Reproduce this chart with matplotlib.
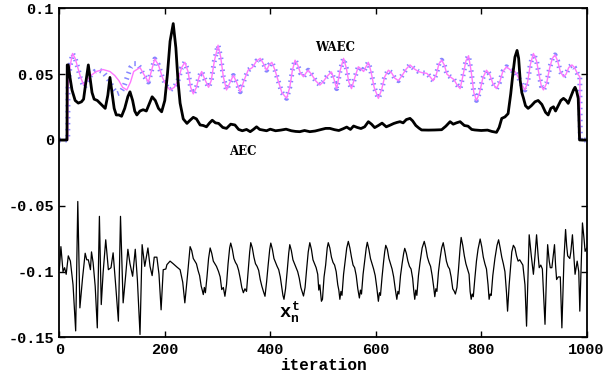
import numpy as np
import matplotlib
matplotlib.use('Agg')
import matplotlib.pyplot as plt

# AEC curve (iteration, value)
aec_pts = [
    (0, 0.0), (14.5, 0.0), (15, 0.057), (17, 0.057), (20, 0.048), (24, 0.038), (30, 0.030),
    (36, 0.028), (42, 0.029), (46, 0.031), (50, 0.043), (55, 0.057), (58, 0.048), (62, 0.036),
    (66, 0.031), (72, 0.030), (77, 0.028), (82, 0.026), (87, 0.024), (92, 0.034), (96, 0.0475),
    (100, 0.036), (104, 0.024), (108, 0.019), (113, 0.019), (118, 0.018), (124, 0.024),
    (130, 0.033), (134, 0.0366), (139, 0.030), (143, 0.022), (147, 0.019), (153, 0.022),
    (159, 0.023), (165, 0.022), (171, 0.028), (176, 0.0328), (182, 0.030), (188, 0.024),
    (194, 0.0214), (200, 0.030), (205, 0.050), (210, 0.075), (216, 0.0884), (221, 0.070),
    (225, 0.045), (229, 0.028), (235, 0.016), (242, 0.0126), (248, 0.015), (254, 0.0172),
    (260, 0.016), (267, 0.0114), (273, 0.011), (279, 0.010), (285, 0.013), (290, 0.015),
    (296, 0.013), (302, 0.0126), (310, 0.0095), (317, 0.0088), (325, 0.012), (333, 0.0114),
    (340, 0.008), (347, 0.007), (355, 0.008), (362, 0.0063), (368, 0.008), (374, 0.010),
    (380, 0.008), (386, 0.0075), (393, 0.007), (400, 0.0082), (410, 0.007), (420, 0.0075),
    (430, 0.0082), (440, 0.007), (448, 0.0065), (456, 0.0063), (465, 0.0072), (475, 0.0063),
    (485, 0.0068), (495, 0.0078), (505, 0.0088), (513, 0.0088), (522, 0.0078), (530, 0.0072),
    (538, 0.0085), (545, 0.0098), (552, 0.008), (558, 0.0106), (565, 0.0095), (572, 0.0087),
    (579, 0.010), (586, 0.0139), (592, 0.012), (598, 0.0094), (605, 0.011), (612, 0.0128),
    (620, 0.010), (627, 0.0112), (634, 0.0125), (640, 0.0133), (646, 0.0139), (652, 0.013),
    (658, 0.0155), (665, 0.0164), (670, 0.0145), (676, 0.011), (682, 0.009), (687, 0.0076),
    (700, 0.0075), (712, 0.0076), (725, 0.0078), (733, 0.0105), (741, 0.0139), (747, 0.012),
    (753, 0.013), (760, 0.0139), (768, 0.011), (775, 0.0105), (782, 0.008), (788, 0.0076),
    (800, 0.0072), (812, 0.0075), (820, 0.0065), (829, 0.0058), (834, 0.0095), (839, 0.0164),
    (845, 0.0175), (851, 0.020), (856, 0.035), (860, 0.050), (864, 0.063), (868, 0.068),
    (871, 0.062), (874, 0.045), (877, 0.036), (880, 0.032), (884, 0.026), (889, 0.024),
    (895, 0.026), (902, 0.029), (908, 0.030), (915, 0.027), (922, 0.021), (927, 0.019),
    (932, 0.024), (937, 0.0252), (941, 0.022), (946, 0.026), (951, 0.030), (956, 0.0316),
    (961, 0.030), (965, 0.0278), (970, 0.033), (975, 0.038), (978, 0.040), (981, 0.037),
    (984, 0.0316), (986.5, 0.0), (1000, 0.0),
]

# WAEC curve (violet line)
waec_pts = [
    (0, 0.0), (16, 0.0), (16.5, 0.040), (20, 0.055), (25, 0.0657), (30, 0.062), (35, 0.055),
    (40, 0.048), (46, 0.042), (52, 0.045), (60, 0.049), (70, 0.052), (83, 0.0535), (96, 0.052),
    (105, 0.049), (113, 0.045), (120, 0.040), (128, 0.038), (135, 0.044), (141, 0.052),
    (153, 0.055), (160, 0.050), (169, 0.044), (175, 0.053), (181, 0.0615), (188, 0.057),
    (195, 0.048), (203, 0.041), (210, 0.038), (218, 0.040), (225, 0.045), (232, 0.055),
    (238, 0.059), (244, 0.052), (249, 0.040), (254, 0.035), (260, 0.040), (265, 0.048),
    (270, 0.052), (276, 0.046), (283, 0.040), (288, 0.045), (294, 0.060), (301, 0.072),
    (306, 0.063), (311, 0.048), (317, 0.038), (323, 0.043), (330, 0.049), (336, 0.044),
    (343, 0.0366), (350, 0.045), (358, 0.053), (366, 0.055), (374, 0.060), (381, 0.062),
    (387, 0.058), (393, 0.053), (398, 0.057), (403, 0.059), (409, 0.053), (415, 0.045),
    (422, 0.036), (431, 0.0316), (437, 0.040), (442, 0.053), (447, 0.0606), (452, 0.057),
    (457, 0.051), (463, 0.048), (468, 0.051), (472, 0.053), (478, 0.050), (486, 0.045),
    (494, 0.0417), (500, 0.044), (507, 0.048), (516, 0.0517), (521, 0.046), (526, 0.039),
    (532, 0.052), (539, 0.062), (544, 0.055), (549, 0.044), (554, 0.039), (560, 0.047),
    (567, 0.0556), (572, 0.054), (577, 0.052), (582, 0.056), (586, 0.059), (591, 0.052),
    (597, 0.040), (605, 0.0316), (611, 0.038), (617, 0.048), (624, 0.053), (630, 0.051),
    (636, 0.047), (643, 0.045), (650, 0.049), (658, 0.054), (665, 0.057), (673, 0.054),
    (681, 0.052), (689, 0.051), (697, 0.0506), (703, 0.048), (709, 0.045), (715, 0.050),
    (720, 0.058), (725, 0.0606), (730, 0.057), (735, 0.050), (741, 0.048), (748, 0.046),
    (754, 0.042), (760, 0.039), (765, 0.048), (771, 0.060), (776, 0.064), (781, 0.052),
    (786, 0.036), (791, 0.030), (797, 0.036), (803, 0.047), (810, 0.053), (816, 0.050),
    (822, 0.043), (829, 0.039), (835, 0.044), (841, 0.052), (848, 0.0556), (856, 0.053),
    (864, 0.052), (870, 0.048), (877, 0.042), (883, 0.038), (888, 0.044), (893, 0.057),
    (899, 0.0657), (905, 0.060), (910, 0.049), (914, 0.041), (918, 0.038), (924, 0.043),
    (930, 0.055), (935, 0.062), (940, 0.0646), (945, 0.060), (950, 0.052), (956, 0.048),
    (961, 0.050), (966, 0.055), (972, 0.057), (977, 0.055), (983, 0.050), (987, 0.048),
    (988, 0.0), (1000, 0.0),
]

# blue marker curve differs from the violet one between 40 and 170
waec_blue_mid = [
    (40, 0.047), (47, 0.040), (53, 0.043), (60, 0.049), (67, 0.052), (75, 0.053), (82, 0.052),
    (88, 0.049), (95, 0.045), (102, 0.039), (109, 0.035), (116, 0.036), (122, 0.040),
    (128, 0.047), (135, 0.055), (141, 0.058), (147, 0.058), (153, 0.055), (160, 0.049),
    (169, 0.044),
]

# x_n^t series
xnt_pts = [
    (0, -0.0985), (3, -0.081), (7, -0.100), (10, -0.097), (13, -0.102), (17, -0.088),
    (21, -0.092), (26, -0.110), (31, -0.145), (35, -0.0467), (39, -0.1275), (44, -0.105),
    (49, -0.086), (52, -0.091), (55, -0.091), (59, -0.0985), (61, -0.085), (64, -0.093),
    (68, -0.111), (72, -0.1427), (76, -0.058), (79.5, -0.125), (83, -0.101), (88, -0.0758),
    (93, -0.0985), (98, -0.097), (102, -0.0857), (107, -0.111), (112, -0.1376), (116, -0.058),
    (121, -0.1237), (126, -0.102), (130, -0.083), (134, -0.094), (139, -0.1035), (144, -0.083),
    (148, -0.106), (153, -0.1477), (157, -0.0795), (162, -0.096), (168, -0.082), (172, -0.096),
    (176, -0.103), (180, -0.089), (185, -0.089), (189, -0.102), (193, -0.129), (197, -0.0985),
    (202, -0.098), (204, -0.0947), (210, -0.092), (216, -0.094), (223, -0.0965), (229, -0.0985),
    (234, -0.108), (238, -0.1237), (243, -0.103), (248, -0.081),
    (251, -0.084), (254, -0.090), (257, -0.092), (260, -0.094), (263, -0.099), (266, -0.103),
    (269, -0.111), (271, -0.114), (273, -0.1174), (275, -0.112), (277, -0.116), (280, -0.104),
    (283, -0.090), (286, -0.082),
    (289, -0.086), (292, -0.092), (295, -0.094), (298, -0.096), (302, -0.100), (305, -0.104),
    (308, -0.1136), (311, -0.112), (314, -0.1187), (317, -0.110), (320, -0.094), (323, -0.082),
    (325, -0.0783),
    (328, -0.083), (331, -0.090), (334, -0.093), (337, -0.095), (340, -0.099), (343, -0.105),
    (346, -0.112), (349, -0.116), (352, -0.113), (355, -0.115), (358, -0.100), (361, -0.085),
    (363, -0.078),
    (366, -0.082), (369, -0.089), (372, -0.094), (375, -0.096), (378, -0.099), (381, -0.106),
    (384, -0.111), (387, -0.115), (390, -0.1187), (393, -0.108), (396, -0.095), (399, -0.083),
    (401, -0.0783),
    (404, -0.083), (407, -0.090), (410, -0.093), (413, -0.096), (416, -0.0985), (419, -0.104),
    (422, -0.1124), (424, -0.118), (426, -0.121), (429, -0.113), (432, -0.100), (435, -0.086),
    (437, -0.0795),
    (440, -0.084), (443, -0.091), (446, -0.094), (449, -0.097), (452, -0.100), (455, -0.105),
    (458, -0.112), (461, -0.116), (463, -0.1185), (466, -0.112), (469, -0.098), (472, -0.085),
    (475, -0.078),
    (478, -0.083), (481, -0.091), (484, -0.094), (487, -0.097), (490, -0.102), (492, -0.114),
    (494, -0.110), (497, -0.1225), (499, -0.121), (502, -0.104), (505, -0.095), (508, -0.082),
    (510, -0.078),
    (513, -0.082), (516, -0.089), (519, -0.093), (522, -0.095), (525, -0.100), (528, -0.110),
    (530, -0.114), (532, -0.121), (534, -0.115), (536, -0.118), (539, -0.102), (542, -0.092),
    (545, -0.082), (548, -0.077),
    (551, -0.082), (554, -0.089), (557, -0.095), (560, -0.097), (563, -0.103), (566, -0.113),
    (569, -0.120), (571, -0.114), (573, -0.117), (576, -0.102), (579, -0.092), (582, -0.082),
    (584, -0.0777),
    (587, -0.083), (590, -0.090), (593, -0.094), (596, -0.098), (599, -0.103), (602, -0.112),
    (605, -0.1225), (607, -0.116), (609, -0.118), (612, -0.104), (615, -0.092), (617, -0.085),
    (619, -0.080),
    (622, -0.083), (625, -0.090), (628, -0.094), (631, -0.098), (634, -0.104), (637, -0.113),
    (640, -0.121), (642, -0.115), (644, -0.117), (647, -0.103), (650, -0.094), (653, -0.086),
    (655, -0.0823),
    (658, -0.086), (661, -0.092), (664, -0.096), (667, -0.098), (670, -0.105), (672, -0.114),
    (674, -0.121), (676, -0.114), (678, -0.118), (681, -0.103), (684, -0.093), (688, -0.082),
    (692, -0.077),
    (695, -0.082), (698, -0.089), (701, -0.093), (704, -0.096), (707, -0.103), (710, -0.112),
    (712, -0.119), (714, -0.113), (716, -0.115), (719, -0.100), (722, -0.090), (725, -0.082),
    (728, -0.078),
    (731, -0.0846), (734, -0.092), (737, -0.096), (740, -0.098), (743, -0.104), (746, -0.113),
    (749, -0.115), (751, -0.117), (754, -0.112), (757, -0.098), (760, -0.082), (762, -0.074),
    (765, -0.080), (768, -0.088), (771, -0.094), (774, -0.098), (777, -0.102), (779, -0.115),
    (781, -0.121), (783, -0.117), (785, -0.119), (788, -0.105), (791, -0.092), (794, -0.083),
    (798, -0.0752),
    (801, -0.081), (804, -0.089), (807, -0.094), (810, -0.098), (813, -0.110), (815, -0.121),
    (817, -0.117), (819, -0.118), (822, -0.103), (826, -0.090), (830, -0.080), (833, -0.0758),
    (836, -0.082), (839, -0.089), (842, -0.094), (845, -0.100), (848, -0.116), (850, -0.130),
    (853, -0.110), (856, -0.095), (858, -0.085), (861, -0.080),
    (864, -0.082), (867, -0.088), (870, -0.092), (873, -0.091), (876, -0.093), (879, -0.095),
    (883, -0.110), (886, -0.1414), (889, -0.100), (891, -0.072), (895, -0.088), (899, -0.102),
    (902, -0.088), (905, -0.072), (908, -0.088), (910, -0.097), (913, -0.095), (916, -0.098),
    (921, -0.140), (924, -0.100), (926, -0.0795), (929, -0.092), (931, -0.097), (934, -0.097),
    (936, -0.090), (939, -0.0795), (941, -0.095), (943, -0.106), (946, -0.104), (950, -0.104),
    (953, -0.1427), (957, -0.090), (960, -0.068), (962, -0.080), (964, -0.088), (968, -0.090),
    (970, -0.085), (973, -0.072), (976, -0.090), (978, -0.102), (982, -0.092), (985, -0.100),
    (987, -0.130), (990, -0.090), (992, -0.063), (995, -0.075), (997, -0.0846), (1000, -0.082),
]

xticks = [0, 200, 400, 600, 800, 1000]
yticks = [-0.15, -0.1, -0.05, 0, 0.05, 0.1]
ytick_labels = ['-0.15', '-0.1', '-0.05', '0', '0.05', '0.1']

plt.rcParams['mathtext.fontset'] = 'custom'
plt.rcParams['mathtext.rm'] = 'Liberation Mono:bold'
plt.rcParams['mathtext.it'] = 'Liberation Mono:bold'

fig = plt.figure(figsize=(6.06, 3.81), dpi=100)
ax = fig.add_axes([0.0979, 0.1142, 0.8702, 0.864])

# build blue curve: violet points outside 40..170 plus its own middle part
blue_pts = [p for p in waec_pts if p[0] < 40] + waec_blue_mid + \
           [p for p in waec_pts if p[0] > 170]

ax_, ay_ = np.array(aec_pts).T
wx, wy = np.array(waec_pts).T
bx, by = np.array(blue_pts).T
xx, xy = np.array(xnt_pts).T

ax.plot(bx, by, color='#8686ff', lw=3.6, dashes=(0.3, 0.9), solid_capstyle='butt')
ax.plot(wx, wy, color='#ff78ff', lw=1.0)
ax.plot(ax_, ay_, color='black', lw=2.0)
ax.plot(xx, xy, color='black', lw=0.9)

ax.set_xlim(0, 1000)
ax.set_ylim(-0.15, 0.1)
ax.set_xticks(xticks)
ax.set_yticks(yticks)
ax.set_yticklabels(ytick_labels)
ax.tick_params(direction='in', top=True, right=True, length=4, width=1, pad=4)
for lab in ax.get_xticklabels() + ax.get_yticklabels():
    lab.set_family('Liberation Mono')
    lab.set_weight('bold')
    lab.set_fontsize(11)
for s in ax.spines.values():
    s.set_linewidth(1.3)

ax.set_xlabel('iteration', family='Liberation Mono', weight='bold', fontsize=11.5, labelpad=1)

ax.text(523, 0.0705, 'WAEC', family='DejaVu Serif', weight='bold', fontsize=8.5,
        ha='center', va='center')
ax.text(348, -0.009, 'AEC', family='DejaVu Serif', weight='bold', fontsize=8.5,
        ha='center', va='center')
ax.text(437, -0.131, r'$x_n^t$', fontsize=13.5, ha='center', va='center')

fig.savefig('out.png', dpi=100)
